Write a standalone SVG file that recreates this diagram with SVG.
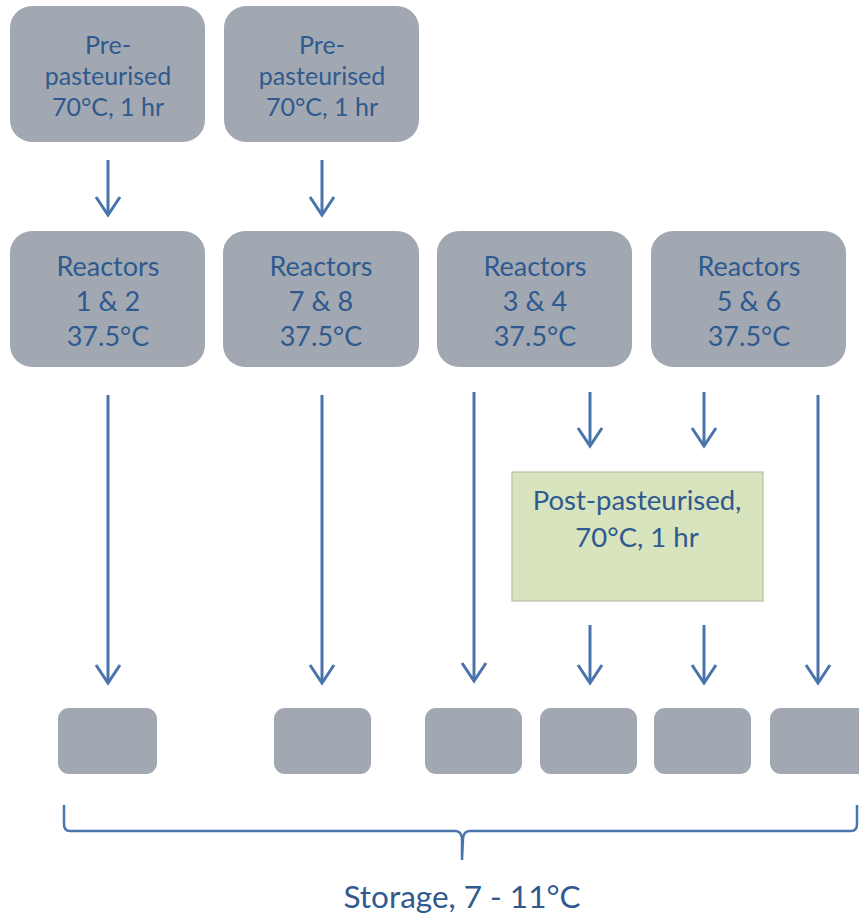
<svg xmlns="http://www.w3.org/2000/svg" width="859" height="918" viewBox="0 0 859 918">
<defs>
<style>
.box{fill:#a1a8b2;}
.post{fill:#d7e4bd;stroke:#b4c0a4;stroke-width:1.2;}
.t{font-family:Lato,"Open Sans","Liberation Sans",sans-serif;fill:#2f5a8f;text-anchor:middle;}
.s{font-size:25px;}
.r{font-size:27px;}
.c line{stroke:#4a74ad;stroke-width:3;}
.c polyline{fill:none;stroke:#4a74ad;stroke-width:3;stroke-linejoin:miter;}
.brace{fill:none;stroke:#4a74ad;stroke-width:2.5;}
</style>
</defs>
<rect width="859" height="918" fill="#ffffff"/>
<g id="pre1"><rect class="box" x="10" y="6" width="195" height="136" rx="22"/>
<text class="t s" x="108" y="54">Pre-</text><text class="t s" x="108" y="85">pasteurised</text><text class="t s" x="108" y="116">70°C, 1 hr</text></g>
<g id="pre2"><rect class="box" x="224" y="6" width="195" height="136" rx="22"/>
<text class="t s" x="322" y="54">Pre-</text><text class="t s" x="322" y="85">pasteurised</text><text class="t s" x="322" y="116">70°C, 1 hr</text></g>
<g id="r12"><rect class="box" x="10" y="231" width="195" height="136" rx="22"/>
<text class="t r" x="108" y="276">Reactors</text><text class="t r" x="108" y="311">1 &amp; 2</text><text class="t r" x="108" y="346">37.5°C</text></g>
<g id="r78"><rect class="box" x="223" y="231" width="196" height="136" rx="22"/>
<text class="t r" x="321" y="276">Reactors</text><text class="t r" x="321" y="311">7 &amp; 8</text><text class="t r" x="321" y="346">37.5°C</text></g>
<g id="r34"><rect class="box" x="437" y="231" width="195" height="136" rx="22"/>
<text class="t r" x="535" y="276">Reactors</text><text class="t r" x="535" y="311">3 &amp; 4</text><text class="t r" x="535" y="346">37.5°C</text></g>
<g id="r56"><rect class="box" x="651" y="231" width="195" height="136" rx="22"/>
<text class="t r" x="749" y="276">Reactors</text><text class="t r" x="749" y="311">5 &amp; 6</text><text class="t r" x="749" y="346">37.5°C</text></g>
<g id="post"><rect class="post" x="512" y="472" width="251" height="129"/>
<text class="t" x="637" y="510" style="font-size:27.5px">Post-pasteurised,</text><text class="t" x="637" y="547" style="font-size:27.5px">70°C, 1 hr</text></g>
<g id="st1"><rect class="box" x="58" y="708" width="99" height="66" rx="11"/></g>
<g id="st2"><rect class="box" x="274" y="708" width="97" height="66" rx="11"/></g>
<g id="st3"><rect class="box" x="425" y="708" width="97" height="66" rx="11"/></g>
<g id="st4"><rect class="box" x="540" y="708" width="97" height="66" rx="11"/></g>
<g id="st5"><rect class="box" x="654" y="708" width="97" height="66" rx="11"/></g>
<g id="st6"><rect class="box" x="770" y="708" width="100" height="66" rx="11"/></g>
<g id="connectors" class="c">
<line x1="108" y1="160" x2="108" y2="215"/><polyline points="96,197 108,215 120,197"/>
<line x1="322" y1="160" x2="322" y2="215"/><polyline points="310,197 322,215 334,197"/>
<line x1="108" y1="395" x2="108" y2="683"/><polyline points="96,665 108,683 120,665"/>
<line x1="322" y1="395" x2="322" y2="683"/><polyline points="310,665 322,683 334,665"/>
<line x1="474" y1="392" x2="474" y2="681"/><polyline points="462,663 474,681 486,663"/>
<line x1="818" y1="395" x2="818" y2="683"/><polyline points="806,665 818,683 830,665"/>
<line x1="590" y1="392" x2="590" y2="446"/><polyline points="578,428 590,446 602,428"/>
<line x1="704" y1="392" x2="704" y2="446"/><polyline points="692,428 704,446 716,428"/>
<line x1="590" y1="625" x2="590" y2="683"/><polyline points="578,665 590,683 602,665"/>
<line x1="704" y1="625" x2="704" y2="683"/><polyline points="692,665 704,683 716,665"/>
</g>
<path class="brace" d="M64,805 L64,824 Q64,831 70,831 L455,831 Q461,831 462,838 L462,860 M462,860 L463,838 Q464,831 470,831 L851,831 Q857,831 857,824 L857,805"/>
<text class="t" x="462" y="908" style="font-size:31.5px">Storage, 7 - 11°C</text>
</svg>
